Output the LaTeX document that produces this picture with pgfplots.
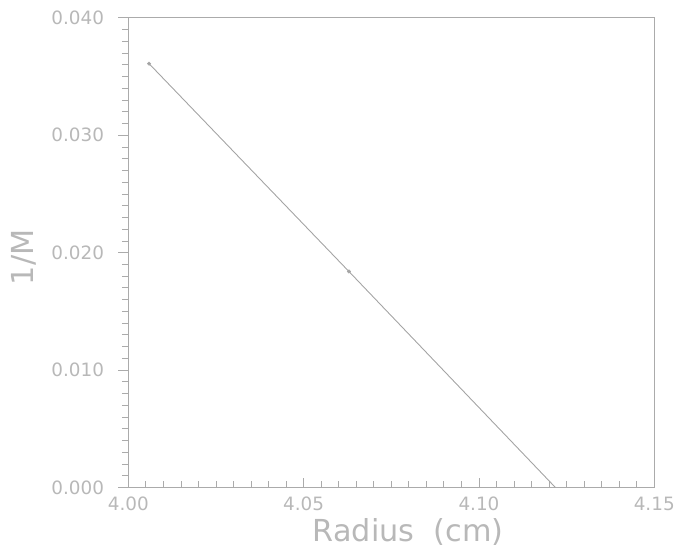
\documentclass[border=0pt]{standalone}
\usepackage{pgfplots}
\pgfplotsset{compat=1.18}
\usepackage{fontspec}
\setmainfont{DejaVu Sans}
\definecolor{axgray}{HTML}{ABABAB}
\definecolor{txtgray}{HTML}{B8B8B8}
\definecolor{lngray}{HTML}{A4A4A4}
\begin{document}
\begin{tikzpicture}
\begin{axis}[
  scale only axis,
  width=529.7pt, height=473pt,
  xmin=4.00, xmax=4.15, ymin=0, ymax=0.040,
  xtick={4.00,4.05,4.10,4.15},
  ytick={0,0.010,0.020,0.030,0.040},
  minor x tick num=9, minor y tick num=9,
  xtick pos=bottom, ytick pos=left,
  x tick label style={/pgf/number format/fixed,/pgf/number format/fixed zerofill,/pgf/number format/precision=2,/pgf/number format/assume math mode=true},
  y tick label style={/pgf/number format/fixed,/pgf/number format/fixed zerofill,/pgf/number format/precision=3,/pgf/number format/assume math mode=true},
  scaled y ticks=false, scaled x ticks=false,
  tick label style={font=\fontsize{18.5}{20}\selectfont, text=txtgray},
  xticklabel style={yshift=-6pt},
  yticklabel style={xshift=-11pt},
  major tick length=10pt, minor tick length=6.5pt,
  every x tick/.style={axgray, line width=0.8pt},
  every y tick/.style={axgray, line width=0.8pt},
  xtick align=inside, ytick align=outside,
  axis line style={axgray, line width=0.9pt},
  xlabel={Radius\ \ (cm)},
  ylabel={1/M},
  xlabel style={at={(axis description cs:0.532,-0.094)}, anchor=center, font=\fontsize{30.5}{34}\selectfont, text=txtgray},
  ylabel style={at={(axis description cs:-0.198,0.49)}, anchor=center, font=\fontsize{30.5}{34}\selectfont, text=txtgray},
  clip=false,
]
\addplot[lngray, line width=0.9pt] coordinates {(4.0059,0.0361) (4.0629,0.0184) (4.1218,0)};
\addplot[only marks, mark=*, mark size=1.8pt, lngray] coordinates {(4.0059,0.0361) (4.0629,0.0184)};
\end{axis}
\path (current axis.south west) ++(-129.3pt,-61pt) coordinate (bl);
\path (current axis.north east) ++(19pt,18pt) coordinate (tr);
\useasboundingbox (bl) rectangle (tr);
\end{tikzpicture}
\end{document}
